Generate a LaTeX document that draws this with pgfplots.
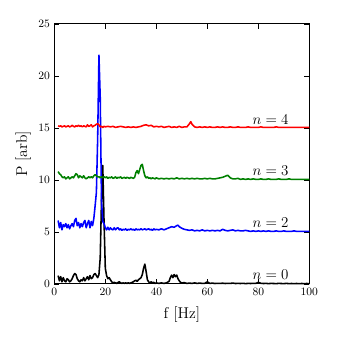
\documentclass[border=0pt]{standalone}
\usepackage{pgfplots}
\pgfplotsset{compat=1.18}
\begin{document}
\begin{tikzpicture}
\begin{axis}[
  scale only axis,
  width=204pt, height=208pt,
  xmin=0, xmax=100, ymin=0, ymax=25,
  xtick={0,20,...,100}, ytick={0,5,...,25},
  tick align=inside,
  major tick length=4pt,
  minor tick num=0,
  tick label style={font=\fontsize{9.5}{11}\selectfont},
  label style={font=\fontsize{12.5}{14}\selectfont},
  xlabel={f [Hz]}, ylabel={P [arb]},
  xlabel style={yshift=-2pt},
  ylabel style={yshift=-1pt},
  axis line style={line width=0.8pt},
  every tick/.style={black, line width=0.6pt},
  clip=false,
  every axis plot/.append style={line width=1.25pt, line join=round},
]
% n = 0
\addplot[black] table {
1.5 0.8
2.0 0.3
2.5 0.7
3.0 0.2
3.5 0.6
4.0 0.3
4.5 0.2
5.0 0.5
5.5 0.4
6.0 0.2
6.5 0.3
7.0 0.5
7.5 0.8
8.0 1.0
8.5 0.9
9.0 0.5
9.5 0.3
10.0 0.2
10.5 0.4
11.0 0.3
11.5 0.6
12.0 0.3
12.5 0.5
13.0 0.7
13.5 0.4
14.0 0.8
14.5 0.5
15.0 0.6
15.5 0.9
16.0 1.0
16.5 0.8
17.0 0.6
17.5 0.9
18.0 2.5
18.5 8.0
19.0 11.4
19.5 6.0
20.0 1.5
20.5 0.8
21.0 0.5
21.5 0.6
22.0 0.4
22.5 0.2
23.0 0.1
23.5 0.15
24.0 0.1
24.5 0.05
25.0 0.15
25.5 0.2
26.0 0.1
26.5 0.05
27.0 0.1
27.5 0.05
28.0 0.1
28.5 0.05
29.0 0.1
29.5 0.05
30.0 0.1
30.5 0.15
31.0 0.2
31.5 0.3
32.0 0.35
32.5 0.25
33.0 0.4
33.5 0.5
34.0 0.6
34.5 0.9
35.0 1.5
35.5 1.9
36.0 1.2
36.5 0.4
37.0 0.2
37.5 0.1
38.0 0.2
38.5 0.1
39.0 0.15
39.5 0.05
40 0.10
41 0.05
42 0.10
43 0.05
44 0.10
45 0.25
45.5 0.6
46 0.85
46.5 0.6
47 0.9
47.5 0.7
48 0.85
48.5 0.5
49 0.3
49.5 0.15
50 0.10
51 0.12
52 0.05
53 0.08
54 0.05
55 0.10
56 0.05
57 0.08
58 0.05
59 0.06
60 0.20
61 0.05
62 0.08
63 0.04
64 0.06
65 0.05
66 0.07
67 0.04
68 0.06
69 0.05
70 0.08
71 0.04
72 0.05
73 0.04
74 0.06
75 0.03
76 0.05
77 0.04
78 0.06
79 0.05
80 0.15
81 0.06
82 0.04
83 0.05
84 0.03
85 0.05
86 0.04
87 0.03
88 0.05
89 0.04
90 0.03
91 0.05
92 0.03
93 0.04
94 0.03
95 0.04
96 0.03
97 0.04
98 0.03
99 0.04
100 0.03
};
% n = 2
\addplot[blue] table {
1.5 6.1
2.0 5.4
2.5 5.9
3.0 5.2
3.5 5.7
4.0 5.5
4.5 5.8
5.0 5.4
5.5 5.7
6.0 5.3
6.5 5.6
7.0 5.8
7.5 5.5
8.0 6.1
8.5 6.3
9.0 5.6
9.5 5.9
10.0 5.4
10.5 5.8
11.0 5.5
11.5 5.9
12.0 6.1
12.5 5.4
13.0 5.8
13.5 6.1
14.0 5.4
14.5 6.0
15.0 5.6
15.5 6.3
16.0 7.5
16.5 8.8
17.0 14.0
17.5 22.0
18.0 18.0
18.5 8.0
19.0 6.0
19.5 5.8
20.0 5.4
20.5 5.2
21.0 5.45
21.5 5.2
22.0 5.4
22.5 5.25
23.0 5.2
23.5 5.4
24.0 5.2
24.5 5.35
25.0 5.4
25.5 5.2
26.0 5.3
26.5 5.15
27.0 5.25
27.5 5.2
28.0 5.3
28.5 5.15
29.0 5.25
29.5 5.2
30.0 5.3
30.5 5.2
31.0 5.25
31.5 5.15
32.0 5.3
32.5 5.2
33.0 5.25
33.5 5.2
34.0 5.3
34.5 5.2
35.0 5.25
35.5 5.3
36.0 5.2
36.5 5.25
37.0 5.3
37.5 5.2
38.0 5.25
38.5 5.15
39.0 5.3
39.5 5.2
40 5.25
41 5.2
42 5.3
43 5.2
44 5.3
45 5.4
46 5.5
47 5.45
48 5.6
48.5 5.65
49 5.5
50 5.35
51 5.25
52 5.2
53 5.15
54 5.2
55 5.1
56 5.15
57 5.1
58 5.2
59 5.1
60 5.15
61 5.1
62 5.15
63 5.1
64 5.15
65 5.1
66 5.25
67 5.15
68 5.1
69 5.15
70 5.2
71 5.1
72 5.15
73 5.1
74 5.1
75 5.15
76 5.1
77 5.05
78 5.1
79 5.05
80 5.1
81 5.05
82 5.1
83 5.05
84 5.1
85 5.05
86 5.05
87 5.1
88 5.05
89 5.05
90 5.1
91 5.05
92 5.05
93 5.05
94 5.1
95 5.05
96 5.05
97 5.05
98 5.05
99 5.05
100 5.05
};
% n = 3
\addplot[green!50!black] table {
1.5 10.8
2.0 10.6
2.5 10.5
3.0 10.3
3.5 10.2
4.0 10.3
4.5 10.1
5.0 10.2
5.5 10.3
6.0 10.1
6.5 10.2
7.0 10.3
7.5 10.2
8.0 10.4
8.5 10.6
9.0 10.5
9.5 10.2
10.0 10.4
10.5 10.3
11.0 10.2
11.5 10.4
12.0 10.2
12.5 10.1
13.0 10.2
13.5 10.3
14.0 10.2
14.5 10.3
15.0 10.2
15.5 10.4
16.0 10.5
16.5 10.4
17.0 10.3
17.5 10.3
18.0 10.2
18.5 10.3
19.0 10.2
19.5 10.3
20.0 10.2
20.5 10.3
21.0 10.15
21.5 10.25
22.0 10.2
22.5 10.3
23.0 10.15
23.5 10.2
24.0 10.3
24.5 10.15
25.0 10.25
25.5 10.2
26.0 10.3
26.5 10.15
27.0 10.2
27.5 10.25
28.0 10.15
28.5 10.25
29.0 10.2
29.5 10.15
30.0 10.25
30.5 10.2
31.0 10.15
31.5 10.25
32.0 10.7
32.5 10.9
33.0 10.6
33.5 11.0
34.0 11.4
34.5 11.5
35.0 10.9
35.5 10.4
36.0 10.2
36.5 10.3
37.0 10.15
37.5 10.2
38.0 10.1
38.5 10.2
39.0 10.15
39.5 10.1
40 10.2
41 10.1
42 10.15
43 10.1
44 10.15
45 10.1
46 10.15
47 10.1
48 10.2
49 10.1
50 10.15
51 10.1
52 10.15
53 10.1
54 10.15
55 10.1
56 10.15
57 10.1
58 10.1
59 10.15
60 10.1
61 10.15
62 10.1
63 10.1
64 10.15
65 10.2
66 10.25
67 10.35
68 10.45
69 10.2
70 10.1
71 10.1
72 10.15
73 10.05
74 10.1
75 10.05
76 10.1
77 10.05
78 10.1
79 10.05
80 10.05
81 10.1
82 10.05
83 10.05
84 10.1
85 10.05
86 10.05
87 10.05
88 10.1
89 10.05
90 10.05
91 10.05
92 10.1
93 10.05
94 10.05
95 10.05
96 10.05
97 10.05
98 10.05
99 10.05
100 10.05
};
% n = 4
\addplot[red] table {
1.5 15.2
2.0 15.15
2.5 15.2
3.0 15.1
3.5 15.15
4.0 15.2
4.5 15.1
5.0 15.15
5.5 15.2
6.0 15.1
6.5 15.15
7.0 15.25
7.5 15.15
8.0 15.1
8.5 15.2
9.0 15.15
9.5 15.25
10.0 15.15
10.5 15.2
11.0 15.1
11.5 15.2
12.0 15.15
12.5 15.1
13.0 15.3
13.5 15.15
14.0 15.2
14.5 15.3
15.0 15.1
15.5 15.2
16.0 15.25
16.5 15.35
17.0 15.4
17.5 15.3
18.0 15.1
18.5 15.15
19.0 15.05
19.5 15.15
20 15.1
21 15.15
22 15.1
23 15.15
24 15.05
25 15.1
26 15.15
27 15.1
28 15.05
29 15.1
30 15.05
31 15.1
32 15.05
33 15.1
34 15.15
35 15.25
36 15.3
37 15.2
38 15.25
39 15.1
40 15.15
41 15.1
42 15.15
43 15.05
44 15.1
45 15.15
46 15.05
47 15.1
48 15.05
49 15.15
50 15.05
51 15.1
52 15.1
53 15.4
53.5 15.6
54 15.35
55 15.1
56 15.05
57 15.1
58 15.05
59 15.1
60 15.05
61 15.1
62 15.05
63 15.05
64 15.1
65 15.05
66 15.1
67 15.05
68 15.05
69 15.1
70 15.05
71 15.05
72 15.1
73 15.05
74 15.05
75 15.05
76 15.1
77 15.05
78 15.05
79 15.05
80 15.05
81 15.1
82 15.05
83 15.05
84 15.05
85 15.05
86 15.05
87 15.1
88 15.05
89 15.05
90 15.05
91 15.05
92 15.05
93 15.05
94 15.05
95 15.05
96 15.05
97 15.05
98 15.05
99 15.05
100 15.05
};
\node[anchor=base east, font=\fontsize{12}{14}\selectfont] at (axis cs:93.6,15.35) {$n=4$};
\node[anchor=base east, font=\fontsize{12}{14}\selectfont] at (axis cs:93.6,10.4) {$n=3$};
\node[anchor=base east, font=\fontsize{12}{14}\selectfont] at (axis cs:93.6,5.4) {$n=2$};
\node[anchor=base east, font=\fontsize{12}{14}\selectfont] at (axis cs:93.6,0.45) {$n=0$};
% page margins as in the reference
\path (rel axis cs:-0.213,-0.208) rectangle (rel axis cs:1.112,1.092);
\end{axis}
\end{tikzpicture}
\end{document}
